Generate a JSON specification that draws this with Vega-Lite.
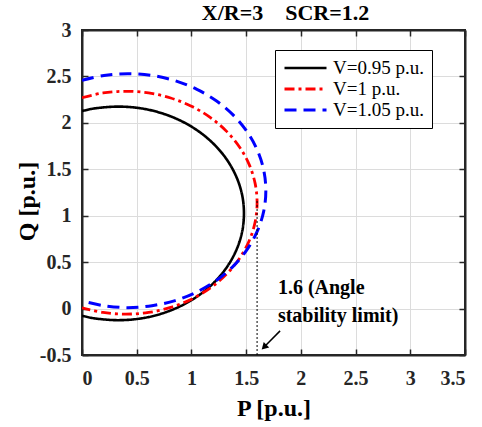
{
  "$schema": "https://vega.github.io/schema/vega-lite/v6.json",
  "autosize": {"type": "none"},
  "padding": {"left": 82, "top": 30, "right": 17, "bottom": 72},
  "width": 383,
  "height": 325,
  "title": {"text": "X/R=3\u00a0\u00a0\u00a0\u00a0SCR=1.2", "font": "Liberation Serif", "fontWeight": "bold", "fontSize": 22, "color": "#000000", "anchor": "middle", "dx": 12, "offset": -5},
  "datasets": {
    "curves": [
      {"V": "V=0.95 p.u.", "i": 0, "P": 0, "Q": 2.127},
      {"V": "V=0.95 p.u.", "i": 1, "P": 0.13, "Q": 2.158},
      {"V": "V=0.95 p.u.", "i": 2, "P": 0.33, "Q": 2.175},
      {"V": "V=0.95 p.u.", "i": 3, "P": 0.53, "Q": 2.158},
      {"V": "V=0.95 p.u.", "i": 4, "P": 0.723, "Q": 2.106},
      {"V": "V=0.95 p.u.", "i": 5, "P": 0.905, "Q": 2.021},
      {"V": "V=0.95 p.u.", "i": 6, "P": 1.069, "Q": 1.906},
      {"V": "V=0.95 p.u.", "i": 7, "P": 1.211, "Q": 1.764},
      {"V": "V=0.95 p.u.", "i": 8, "P": 1.326, "Q": 1.6},
      {"V": "V=0.95 p.u.", "i": 9, "P": 1.411, "Q": 1.418},
      {"V": "V=0.95 p.u.", "i": 10, "P": 1.463, "Q": 1.225},
      {"V": "V=0.95 p.u.", "i": 11, "P": 1.48, "Q": 1.025},
      {"V": "V=0.95 p.u.", "i": 12, "P": 1.463, "Q": 0.825},
      {"V": "V=0.95 p.u.", "i": 13, "P": 1.411, "Q": 0.632},
      {"V": "V=0.95 p.u.", "i": 14, "P": 1.326, "Q": 0.45},
      {"V": "V=0.95 p.u.", "i": 15, "P": 1.211, "Q": 0.286},
      {"V": "V=0.95 p.u.", "i": 16, "P": 1.069, "Q": 0.144},
      {"V": "V=0.95 p.u.", "i": 17, "P": 0.905, "Q": 0.029},
      {"V": "V=0.95 p.u.", "i": 18, "P": 0.723, "Q": -0.056},
      {"V": "V=0.95 p.u.", "i": 19, "P": 0.53, "Q": -0.108},
      {"V": "V=0.95 p.u.", "i": 20, "P": 0.33, "Q": -0.125},
      {"V": "V=0.95 p.u.", "i": 21, "P": 0.13, "Q": -0.108},
      {"V": "V=0.95 p.u.", "i": 22, "P": 0, "Q": -0.077},
      {"V": "V=1 p.u.", "i": 0, "P": 0, "Q": 2.271},
      {"V": "V=1 p.u.", "i": 1, "P": 0.192, "Q": 2.322},
      {"V": "V=1 p.u.", "i": 2, "P": 0.4, "Q": 2.34},
      {"V": "V=1 p.u.", "i": 3, "P": 0.608, "Q": 2.322},
      {"V": "V=1 p.u.", "i": 4, "P": 0.81, "Q": 2.268},
      {"V": "V=1 p.u.", "i": 5, "P": 1.0, "Q": 2.179},
      {"V": "V=1 p.u.", "i": 6, "P": 1.171, "Q": 2.059},
      {"V": "V=1 p.u.", "i": 7, "P": 1.319, "Q": 1.911},
      {"V": "V=1 p.u.", "i": 8, "P": 1.439, "Q": 1.74},
      {"V": "V=1 p.u.", "i": 9, "P": 1.528, "Q": 1.55},
      {"V": "V=1 p.u.", "i": 10, "P": 1.582, "Q": 1.348},
      {"V": "V=1 p.u.", "i": 11, "P": 1.6, "Q": 1.14},
      {"V": "V=1 p.u.", "i": 12, "P": 1.582, "Q": 0.932},
      {"V": "V=1 p.u.", "i": 13, "P": 1.528, "Q": 0.73},
      {"V": "V=1 p.u.", "i": 14, "P": 1.439, "Q": 0.54},
      {"V": "V=1 p.u.", "i": 15, "P": 1.319, "Q": 0.369},
      {"V": "V=1 p.u.", "i": 16, "P": 1.171, "Q": 0.221},
      {"V": "V=1 p.u.", "i": 17, "P": 1.0, "Q": 0.101},
      {"V": "V=1 p.u.", "i": 18, "P": 0.81, "Q": 0.012},
      {"V": "V=1 p.u.", "i": 19, "P": 0.608, "Q": -0.042},
      {"V": "V=1 p.u.", "i": 20, "P": 0.4, "Q": -0.06},
      {"V": "V=1 p.u.", "i": 21, "P": 0.192, "Q": -0.042},
      {"V": "V=1 p.u.", "i": 22, "P": 0, "Q": 0.009},
      {"V": "V=1.05 p.u.", "i": 0, "P": 0, "Q": 2.458},
      {"V": "V=1.05 p.u.", "i": 1, "P": 0.201, "Q": 2.511},
      {"V": "V=1.05 p.u.", "i": 2, "P": 0.42, "Q": 2.53},
      {"V": "V=1.05 p.u.", "i": 3, "P": 0.639, "Q": 2.511},
      {"V": "V=1.05 p.u.", "i": 4, "P": 0.851, "Q": 2.454},
      {"V": "V=1.05 p.u.", "i": 5, "P": 1.05, "Q": 2.361},
      {"V": "V=1.05 p.u.", "i": 6, "P": 1.23, "Q": 2.235},
      {"V": "V=1.05 p.u.", "i": 7, "P": 1.385, "Q": 2.08},
      {"V": "V=1.05 p.u.", "i": 8, "P": 1.511, "Q": 1.9},
      {"V": "V=1.05 p.u.", "i": 9, "P": 1.604, "Q": 1.701},
      {"V": "V=1.05 p.u.", "i": 10, "P": 1.661, "Q": 1.489},
      {"V": "V=1.05 p.u.", "i": 11, "P": 1.68, "Q": 1.27},
      {"V": "V=1.05 p.u.", "i": 12, "P": 1.661, "Q": 1.051},
      {"V": "V=1.05 p.u.", "i": 13, "P": 1.604, "Q": 0.839},
      {"V": "V=1.05 p.u.", "i": 14, "P": 1.511, "Q": 0.64},
      {"V": "V=1.05 p.u.", "i": 15, "P": 1.385, "Q": 0.46},
      {"V": "V=1.05 p.u.", "i": 16, "P": 1.23, "Q": 0.305},
      {"V": "V=1.05 p.u.", "i": 17, "P": 1.05, "Q": 0.179},
      {"V": "V=1.05 p.u.", "i": 18, "P": 0.851, "Q": 0.086},
      {"V": "V=1.05 p.u.", "i": 19, "P": 0.639, "Q": 0.031},
      {"V": "V=1.05 p.u.", "i": 20, "P": 0.42, "Q": 0.01},
      {"V": "V=1.05 p.u.", "i": 21, "P": 0.201, "Q": 0.031},
      {"V": "V=1.05 p.u.", "i": 22, "P": 0, "Q": 0.082}
    ],
    "limit": [{"P": 1.6, "Q": -0.5, "Q2": 1.16}],
    "note": [
      {"P": 1.79, "Q": 0.224, "label": "1.6 (Angle"},
      {"P": 1.79, "Q": -0.079, "label": "stability limit)"}
    ],
    "arrow": [{"P": 1.81, "Q": -0.24, "P2": 1.68, "Q2": -0.395}],
    "head": [{"P": 1.664, "Q": -0.414}]
  },
  "layer": [
    {
      "data": {"name": "curves"},
      "mark": {"type": "line", "strokeCap": "butt", "clip": true, "interpolate": "cardinal"},
      "encoding": {
        "x": {"field": "P", "type": "quantitative",
          "scale": {"domain": [0, 3.5], "nice": false, "zero": false},
          "axis": {"orient": "bottom", "values": [0, 0.5, 1, 1.5, 2, 2.5, 3, 3.5], "labelExpr": "datum.value + ''",
            "grid": true, "gridColor": "#dcdcdc", "gridWidth": 1,
            "domainColor": "#262626", "domainWidth": 2, "tickColor": "#262626", "tickWidth": 1.5, "tickSize": -6,
            "labelFont": "Liberation Serif", "labelFontWeight": "bold", "labelFontSize": 20, "labelColor": "#262626", "labelPadding": 19,
            "title": "P [p.u.]", "titleFont": "Liberation Serif", "titleFontWeight": "bold", "titleFontSize": 24, "titleColor": "#000000", "titlePadding": 8}},
        "y": {"field": "Q", "type": "quantitative",
          "scale": {"domain": [-0.5, 3], "nice": false, "zero": false},
          "axis": {"orient": "left", "values": [-0.5, 0, 0.5, 1, 1.5, 2, 2.5, 3], "labelExpr": "datum.value + ''",
            "grid": true, "gridColor": "#dcdcdc", "gridWidth": 1,
            "domainColor": "#262626", "domainWidth": 2, "tickColor": "#262626", "tickWidth": 1.5, "tickSize": -6,
            "labelFont": "Liberation Serif", "labelFontWeight": "bold", "labelFontSize": 20, "labelColor": "#262626", "labelPadding": 17,
            "title": "Q [p.u.]", "titleFont": "Liberation Serif", "titleFontWeight": "bold", "titleFontSize": 24, "titleColor": "#000000",
            "titleAngle": -90, "titleBaseline": "middle", "titleX": -55, "titleY": 171}},
        "order": {"field": "i", "type": "quantitative"},
        "color": {"field": "V", "type": "nominal",
          "scale": {"domain": ["V=0.95 p.u.", "V=1 p.u.", "V=1.05 p.u."], "range": ["#000000", "#ff0000", "#0000ff"]},
          "legend": {"title": null, "orient": "none", "legendX": 193, "legendY": 20,
            "fillColor": "#ffffff", "strokeColor": "#000000", "padding": 8,
            "symbolType": "stroke", "symbolSize": 1764, "symbolStrokeWidth": 2.5, "clipHeight": 20, "rowPadding": 1,
            "labelFont": "Liberation Serif", "labelFontSize": 19, "labelColor": "#000000", "labelOffset": 5, "labelLimit": 300}},
        "strokeDash": {"field": "V", "type": "nominal",
          "scale": {"domain": ["V=0.95 p.u.", "V=1 p.u.", "V=1.05 p.u."], "range": [[1, 0], [10, 4, 3, 4], [12, 7]]}},
        "strokeWidth": {"field": "V", "type": "nominal",
          "scale": {"domain": ["V=0.95 p.u.", "V=1 p.u.", "V=1.05 p.u."], "range": [2.6, 3, 3]}, "legend": null}
      }
    },
    {
      "data": {"name": "limit"},
      "mark": {"type": "rule", "color": "#000000", "strokeWidth": 1, "strokeDash": [2, 2]},
      "encoding": {
        "x": {"field": "P", "type": "quantitative", "scale": {"domain": [0, 3.5], "nice": false, "zero": false}, "axis": null},
        "y": {"field": "Q", "type": "quantitative", "scale": {"domain": [-0.5, 3], "nice": false, "zero": false}, "axis": null},
        "y2": {"field": "Q2"}
      }
    },
    {
      "data": {"name": "note"},
      "mark": {"type": "text", "align": "left", "baseline": "middle", "font": "Liberation Serif", "fontWeight": "bold", "fontSize": 20, "color": "#000000"},
      "encoding": {
        "x": {"field": "P", "type": "quantitative", "scale": {"domain": [0, 3.5], "nice": false, "zero": false}, "axis": null},
        "y": {"field": "Q", "type": "quantitative", "scale": {"domain": [-0.5, 3], "nice": false, "zero": false}, "axis": null},
        "text": {"field": "label"}
      }
    },
    {
      "data": {"name": "arrow"},
      "mark": {"type": "rule", "color": "#000000", "strokeWidth": 1.5},
      "encoding": {
        "x": {"field": "P", "type": "quantitative", "scale": {"domain": [0, 3.5], "nice": false, "zero": false}, "axis": null},
        "y": {"field": "Q", "type": "quantitative", "scale": {"domain": [-0.5, 3], "nice": false, "zero": false}, "axis": null},
        "x2": {"field": "P2"},
        "y2": {"field": "Q2"}
      }
    },
    {
      "data": {"name": "head"},
      "mark": {"type": "point", "shape": "triangle-up", "angle": 225, "size": 60, "filled": true, "color": "#000000", "opacity": 1},
      "encoding": {
        "x": {"field": "P", "type": "quantitative", "scale": {"domain": [0, 3.5], "nice": false, "zero": false}, "axis": null},
        "y": {"field": "Q", "type": "quantitative", "scale": {"domain": [-0.5, 3], "nice": false, "zero": false}, "axis": null}
      }
    },
    {
      "data": {"name": "head"},
      "mark": {"type": "point", "opacity": 0},
      "encoding": {
        "x": {"field": "P", "type": "quantitative", "scale": {"domain": [0, 3.5], "nice": false, "zero": false},
          "axis": {"orient": "top", "values": [0, 0.5, 1, 1.5, 2, 2.5, 3, 3.5], "labels": false, "grid": false, "title": null,
            "domainColor": "#262626", "domainWidth": 2, "tickColor": "#262626", "tickWidth": 1.5, "tickSize": -6}},
        "y": {"field": "Q", "type": "quantitative", "scale": {"domain": [-0.5, 3], "nice": false, "zero": false},
          "axis": {"orient": "right", "values": [-0.5, 0, 0.5, 1, 1.5, 2, 2.5, 3], "labels": false, "grid": false, "title": null,
            "domainColor": "#262626", "domainWidth": 2, "tickColor": "#262626", "tickWidth": 1.5, "tickSize": -6}}
      }
    }
  ],
  "resolve": {"axis": {"x": "independent", "y": "independent"}},
  "config": {
    "font": "Liberation Serif",
    "view": {"stroke": "#262626", "strokeWidth": 2},
    "background": "#ffffff"
  }
}
